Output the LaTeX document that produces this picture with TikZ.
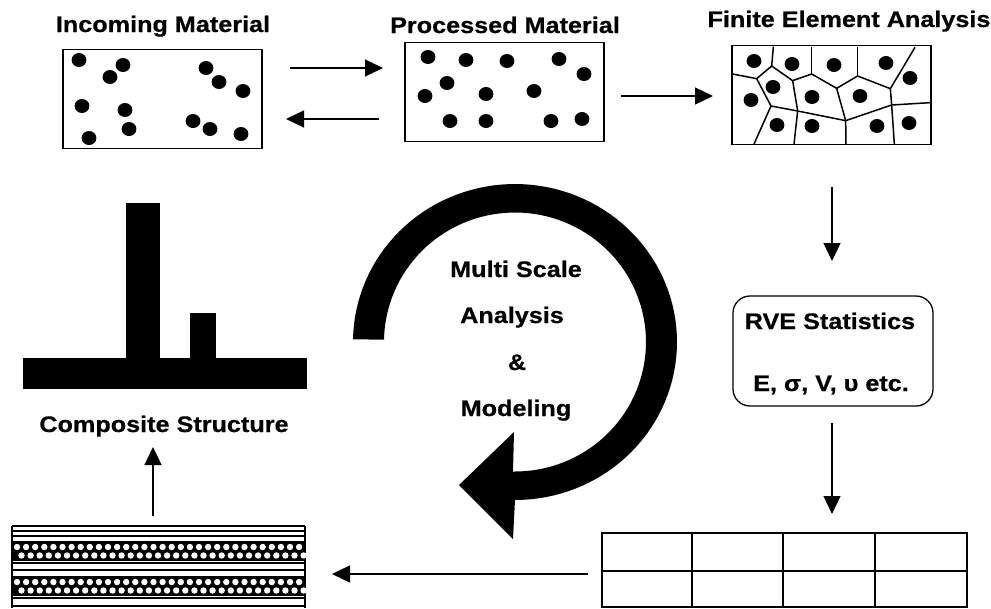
\documentclass[tikz,border=0pt]{standalone}
\usepackage{fontspec}
\newfontfamily\lab{Liberation Sans}[FakeStretch=1.12,FakeBold=0.6]
\usetikzlibrary{arrows.meta}
\tikzset{
  lbl/.style={font=\lab\bfseries\fontsize{22.5}{25}\selectfont,anchor=base,inner sep=0pt},
  matbox/.style={draw,line width=1.3pt,inner sep=0pt,minimum width=199pt,minimum height=99pt},
  arr/.style={line width=1.3pt,-{Triangle[length=18pt,width=17pt]}},
  mesh/.style={line width=1.5pt,line join=round},
  ply/.style={line width=1.2pt}
}
\newcommand{\grains}[1]{\foreach \a/\b in {#1}{\fill (\a,\b) ellipse[x radius=7.4,y radius=7];}}
\begin{document}
\begin{tikzpicture}[x=1pt,y=-1pt]
\useasboundingbox (0,0) rectangle (991,608);
% titles
\node[lbl] (t1) at (163,32) {Incoming Material};
\node[lbl] (t2) at (505,33) {Processed Material};
\node[lbl] (t3) at (849,27) {Finite Element Analysis};
% boxes
\node[matbox] (b1) at (162.5,99) {};
\node[matbox] (b2) at (504.5,92) {};
\node[matbox] (b3) at (831.5,95) {};
\grains{79/60,123/65,110/77,206/68,219/82,243/91,82/106,125/110,129/129,89/138,193/121,210/129,241/134}
\grains{428/57,466/60,507/61,559/59,584/74,447/83,425/96,486/94,534/91,450/121,486/121,551/121,582/119}
\grains{754/61,792/64,834/65,886/63,910/78,773/87,751/100,812/97,860/96,777/125,812/126,877/126,909/123}
% mesh
\begin{scope}[shift={(710,0)},x=0.33333pt,y=-0.33333pt,mesh]
\draw (190,140)--(185,198);
\draw (68,222)--(140,236)--(185,198)--(248,242)--(305,222)--(380,265)--(443,228)--(541,266)--(615,142);
\draw (305,140)--(305,222);
\draw (443,140)--(443,228);
\draw (140,236)--(183,318)--(132,432);
\draw (248,242)--(263,333)--(252,432);
\draw (183,318)--(263,333)--(407,362)--(408,432);
\draw (380,265)--(407,362);
\draw (407,362)--(545,315)--(660,308);
\draw (541,266)--(545,315)--(553,432);
\end{scope}
% flow arrows
\coordinate (a1s) at (290,68); \coordinate (a1e) at (383,68);
\coordinate (a2s) at (379,119); \coordinate (a2e) at (286,119);
\coordinate (a3s) at (621,96); \coordinate (a3e) at (713,96);
\coordinate (a4s) at (832,187); \coordinate (a4e) at (832,261);
\coordinate (a5s) at (832,423); \coordinate (a5e) at (832,514);
\coordinate (a6s) at (588,574); \coordinate (a6e) at (332,574);
\coordinate (a7s) at (153,516); \coordinate (a7e) at (153,447);
\draw[arr] (a1s)--(a1e);
\draw[arr] (a2s)--(a2e);
\draw[arr] (a3s)--(a3e);
\draw[arr] (a4s)--(a4e);
\draw[arr] (a5s)--(a5e);
\draw[arr] (a6s)--(a6e);
\draw[arr] (a7s)--(a7e);
% RVE
\node[draw,line width=1.3pt,rounded corners=17pt,inner sep=0pt,minimum width=200pt,minimum height=110pt] (rve) at (833,351) {};
\node[lbl] (r1) at (830,329) {RVE Statistics};
\node[lbl] (r2) at (831,391) {E, σ, V, υ etc.};
% grid
\node[draw,line width=1.4pt,inner sep=0pt,minimum width=365pt,minimum height=74pt] (grid) at (784.5,570) {};
\draw[line width=1.8pt] (grid.west |- 0,571)--(grid.east |- 0,571);
\foreach \x in {692,783,875}{\draw[line width=1.6pt] (\x,533)--(\x,607);}
% curved arrow
\fill plot[domain=181:450,samples=100] ({515+162*cos(\x)},{342+158*sin(\x)})
  --(513,539)--(459,485)--(514,432)--(513,472)
  --plot[domain=450:181,samples=100] ({515+131*cos(\x)},{342+129.5*sin(\x)})--cycle;
\node[lbl] (m1) at (516,277) {Multi Scale};
\node[lbl] (m2) at (512,323) {Analysis};
\node[lbl] (m3) at (517,370) {\&};
\node[lbl] (m4) at (516,416) {Modeling};
% composite structure
\fill (23,358) rectangle (307,389);
\fill (126,203) rectangle (160,358);
\fill (190,313) rectangle (216,358);
\node[lbl] (cs) at (164,432) {Composite Structure};
% laminate
\foreach \y in {526,531,536,563,570,598,606}{\draw[ply] (12,\y)--(305,\y);}
\draw[ply] (12,526)--(12,608);
\draw[ply] (305,526)--(305,608);
\foreach \y in {541,576}{
  \fill (12,\y) rectangle (305,\y+20);
  \foreach \k in {0,...,31}{
    \fill[white] (17+9.1*\k,\y+6) circle[radius=3.2pt];
    \fill[white] (21.5+9.1*\k,\y+14.5) circle[radius=3.2pt];
  }
}
\end{tikzpicture}
\end{document}
